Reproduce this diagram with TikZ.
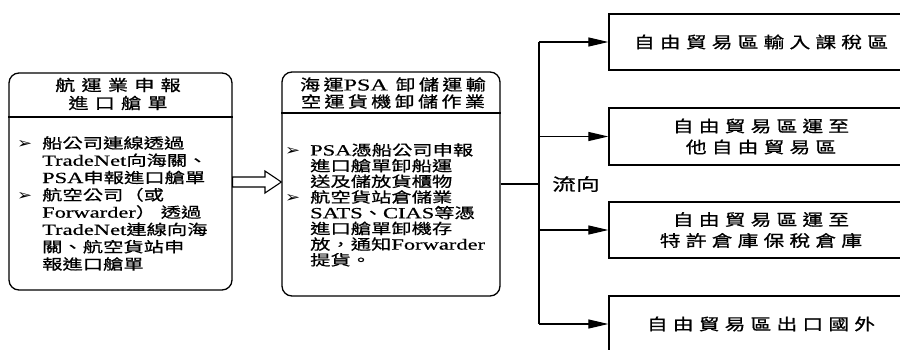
\documentclass[tikz,border=0pt]{standalone}
\usepackage{fontspec}
\setmainfont[FakeStretch=1.4,FakeBold=0.6]{Noto Sans CJK TC}
\newfontfamily\latf[FakeStretch=1.45,Scale=1.07,FakeBold=0.5]{Liberation Serif}
\newfontfamily\symf[FakeStretch=1.2]{DejaVu Sans}
\newfontfamily\spA[FakeStretch=1.3,LetterSpace=40,FakeBold=0.8]{Noto Sans CJK TC}
\newfontfamily\spB[FakeStretch=1.3,LetterSpace=21,FakeBold=0.8]{Noto Sans CJK TC}
\newfontfamily\spC[FakeStretch=1.3,LetterSpace=32,FakeBold=0.8]{Noto Sans CJK TC}
\newcommand\lat[1]{{\latf #1}}
\newcommand\bul{\makebox[25pt][l]{\symf\fontsize{15}{15}\selectfont ➢}}
\newcommand\ind{\hspace*{25pt}}
\usetikzlibrary{arrows.meta,calc}
\tikzset{
  lbox/.style={draw, line width=1.3pt, rounded corners=10pt, inner sep=0pt},
  rbox/.style={draw, line width=1.3pt, inner sep=0pt, minimum width=304pt, minimum height=56pt,
    align=center, font=\spC\fontsize{16}{21}\selectfont},
  hdr/.style={align=center, inner sep=0pt},
  bodytxt/.style={align=left, inner sep=0pt, anchor=north west},
  arr/.style={line width=1.2pt, -{Triangle[length=20pt,width=9pt]}},
  conn/.style={line width=1.2pt},
  blockarr/.style={line width=1.1pt, fill=white, line join=miter},
}
\begin{document}
\begin{tikzpicture}[x=1pt,y=-1pt]
\clip (0,0) rectangle (900,349);
\fill[white] (0,0) rectangle (900,349);
% left box
\node[lbox, minimum width=223pt, minimum height=217pt] (L) at (120.5,181.5) {};
\draw[line width=1.1pt] (L.west |- 0,117) -- (L.east |- 0,117);
\node[hdr, font=\spA\fontsize{15.5}{18}\selectfont] (Lh) at (118,94) {航運業申報\\進口艙單};
\node[bodytxt, font=\fontsize{14.5}{17.3}\selectfont] (Lb) at (17,136) {\bul 船公司連線透過\\
\ind\lat{TradeNet}向海關、\\
\ind\lat{PSA}申報進口艙單\\
\bul 航空公司（或\\
\ind\lat{Forwarder}） 透過\\
\ind\lat{TradeNet}連線向海\\
\ind 關、航空貨站申\\
\ind 報進口艙單};
% middle box
\node[lbox, minimum width=218pt, minimum height=224pt] (M) at (391,184) {};
\draw[line width=1.1pt] (M.west |- 0,113) -- (M.east |- 0,113);
\node[hdr, font=\spB\fontsize{15.5}{17}\selectfont] (Mh) at (393,93) {海運\lat{PSA} 卸儲運輸\\空運貨機卸儲作業};
\node[bodytxt, font=\fontsize{14.5}{15.7}\selectfont] (Mb) at (285,143) {\bul\lat{PSA}憑船公司申報\\
\ind 進口艙單卸船運\\
\ind 送及儲放貨櫃物\\
\bul 航空貨站倉儲業\\
\ind\lat{SATS}、\lat{CIAS}等憑\\
\ind 進口艙單卸機存\\
\ind 放，通知\lat{Forwarder}\\
\ind 提貨。};
% block arrow
\draw[blockarr] (L.east |- 0,177) -- (265,177) -- (265,171) -- (M.west |- 0,182)
  -- (265,193) -- (265,187) -- (L.east |- 0,187) -- cycle;
% right boxes
\node[rbox] (R1) at (761,42) {自由貿易區輸入課稅區};
\node[rbox, minimum height=57pt] (R2) at (761,136.5) {自由貿易區運至\\他自由貿易區};
\node[rbox] (R3) at (761,230) {自由貿易區運至\\特許倉庫保稅倉庫};
\node[rbox] (R4) at (761,324) {自由貿易區出口國外};
% connectors
\coordinate (bus) at (539,184);
\draw[conn] (M.east) -- (bus);
\draw[conn] (bus |- R1.west) -- (bus |- R4.west);
\draw[arr] (bus |- R1.west) -- (R1.west);
\draw[arr] (bus |- R2.west) -- (R2.west);
\draw[arr] (bus |- R3.west) -- (R3.west);
\draw[arr] (bus |- R4.west) -- (R4.west);
\node[font=\fontsize{17}{17}\selectfont, inner sep=0pt] (flow) at (576,184) {流向};
\end{tikzpicture}
\end{document}
